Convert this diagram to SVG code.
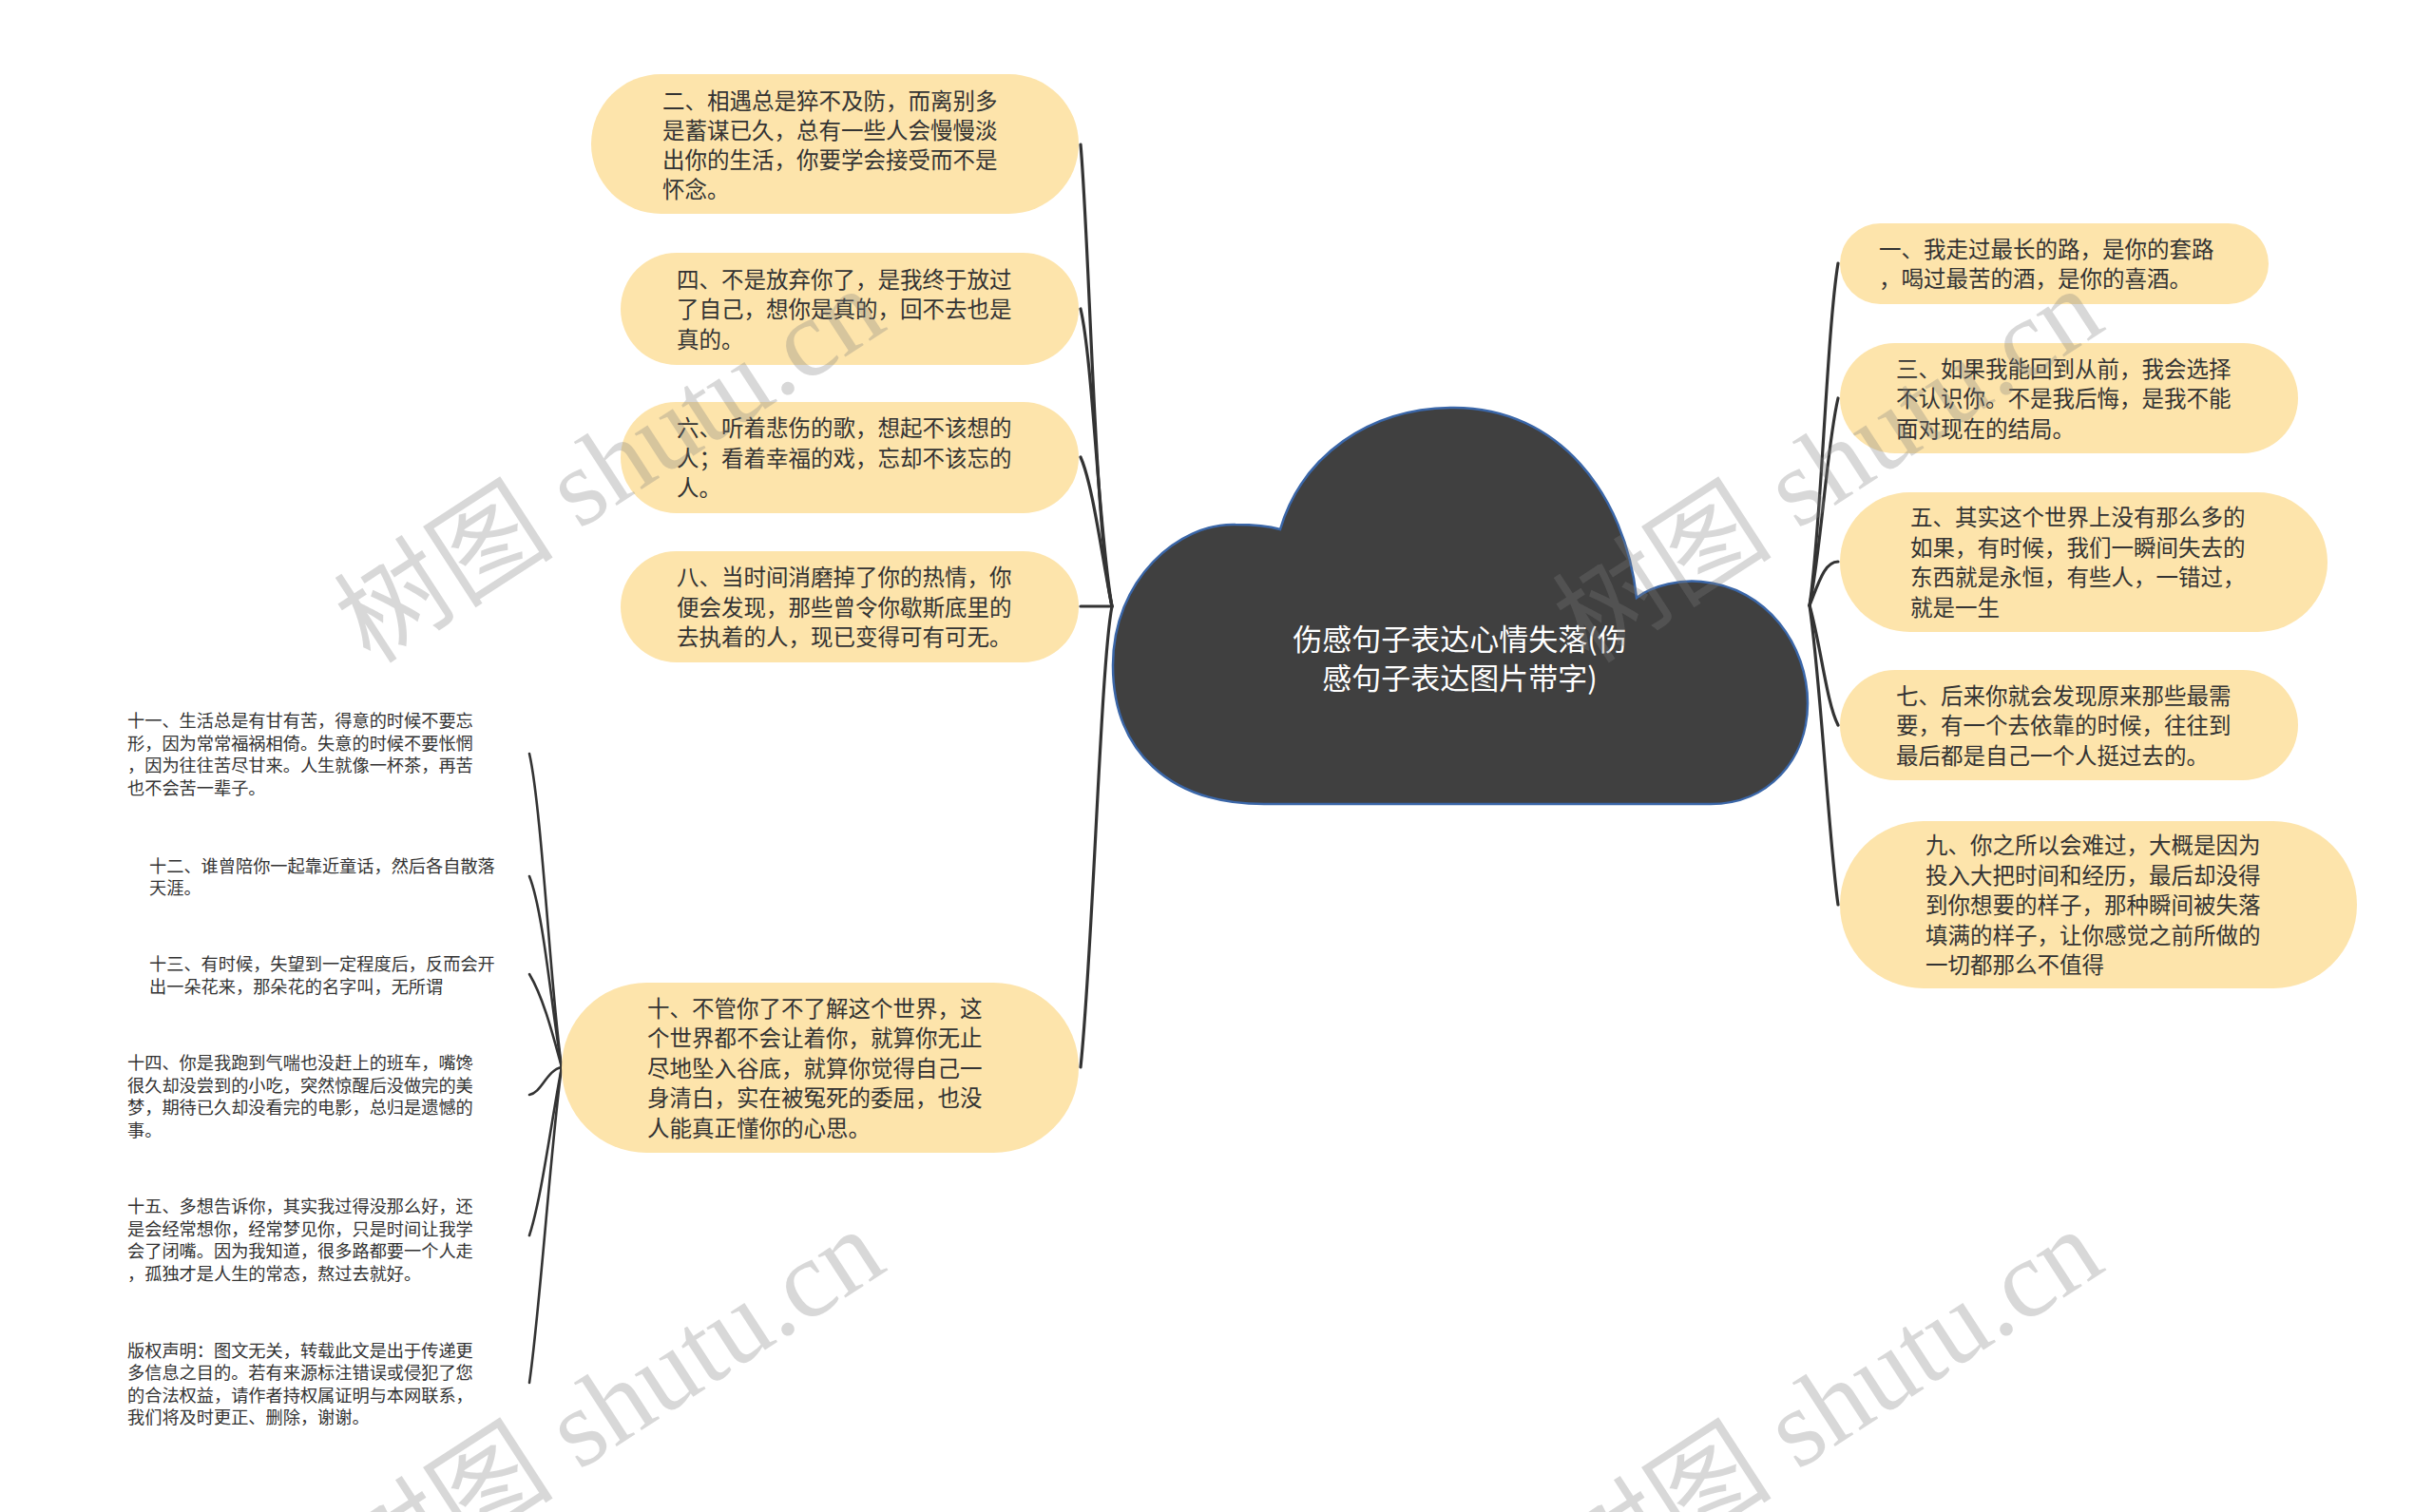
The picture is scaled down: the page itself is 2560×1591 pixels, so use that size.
<svg xmlns="http://www.w3.org/2000/svg" width="2560" height="1591" viewBox="0 0 2560 1591">
<style>
.node{fill:#fde4ab}
.t{font-family:"Noto Sans CJK SC","Noto Sans",sans-serif;font-size:23.5px;fill:#333}
.s{font-family:"Noto Sans CJK SC","Noto Sans",sans-serif;font-size:18.2px;fill:#333}
.root{font-family:"Noto Sans CJK SC","Noto Sans",sans-serif;font-size:31px;fill:#ffffff;text-anchor:middle}
.c{fill:none;stroke:#333;stroke-width:3.2;stroke-linecap:round}
.c2{fill:none;stroke:#333;stroke-width:2.6;stroke-linecap:round}
.wm{font-family:"Liberation Serif","Noto Sans CJK SC",serif;font-size:116px;fill:#7f7f7f;fill-opacity:0.3}
</style>
<rect width="2560" height="1591" fill="#ffffff"/>
<g id="connectors">
<path class="c" d="M1170 638 C1152 560 1146 250 1137 152"/>
<path class="c" d="M1170 638 C1156 560 1150 380 1137 325"/>
<path class="c" d="M1170 638 C1160 590 1150 510 1137 481"/>
<path class="c" d="M1170 638 L1137 638"/>
<path class="c" d="M1170 638 C1158 700 1150 1000 1137 1123"/>
<path class="c" d="M1904 637 C1916 560 1922 350 1934 277"/>
<path class="c" d="M1904 637 C1916 580 1922 470 1934 419"/>
<path class="c" d="M1904 637 C1914 612 1920 591 1934 591"/>
<path class="c" d="M1904 637 C1916 680 1922 740 1934 763"/>
<path class="c" d="M1904 637 C1916 720 1924 880 1934 952"/>
<path class="c2" d="M591 1123 C580 1050 570 850 557 793"/>
<path class="c2" d="M591 1123 C580 1060 572 960 557 922"/>
<path class="c2" d="M591 1123 C582 1090 572 1050 557 1025"/>
<path class="c2" d="M591 1123 C575 1126 570 1150 557 1152"/>
<path class="c2" d="M591 1123 C580 1180 570 1260 557 1300"/>
<path class="c2" d="M591 1123 C580 1200 568 1380 557 1455"/>
</g>
<g id="root">
<path d="M1330 846 C1230 846 1171 790 1171 700 C1171 610 1240 550 1300 552 C1325 552 1340 555 1347 557 C1370 480 1440 429 1530 429 C1640 429 1710 520 1722 629 C1740 615 1770 610 1790 612 C1860 618 1902 680 1902 740 C1902 800 1860 846 1800 846 Z" fill="#404040" stroke="#3a66a8" stroke-width="2.5"/>
<text class="root" x="1536" y="684">伤感句子表达心情失落(伤</text>
<text class="root" x="1536" y="725">感句子表达图片带字)</text>
</g>
<g id="n2">
<rect class="node" x="622" y="78" width="513" height="147" rx="73.5"/>
<text class="t" x="697" y="115">二、相遇总是猝不及防，而离别多</text>
<text class="t" x="697" y="146">是蓄谋已久，总有一些人会慢慢淡</text>
<text class="t" x="697" y="177">出你的生活，你要学会接受而不是</text>
<text class="t" x="697" y="208">怀念。</text>
</g>
<g id="n4">
<rect class="node" x="653" y="266" width="482" height="118" rx="59"/>
<text class="t" x="712" y="302.5">四、不是放弃你了，是我终于放过</text>
<text class="t" x="712" y="334">了自己，想你是真的，回不去也是</text>
<text class="t" x="712" y="365.5">真的。</text>
</g>
<g id="n6">
<rect class="node" x="653" y="423" width="482" height="117" rx="58.5"/>
<text class="t" x="712" y="459">六、听着悲伤的歌，想起不该想的</text>
<text class="t" x="712" y="490.5">人；看着幸福的戏，忘却不该忘的</text>
<text class="t" x="712" y="522">人。</text>
</g>
<g id="n8">
<rect class="node" x="653" y="580" width="482" height="117" rx="58.5"/>
<text class="t" x="712" y="616">八、当时间消磨掉了你的热情，你</text>
<text class="t" x="712" y="647.5">便会发现，那些曾令你歇斯底里的</text>
<text class="t" x="712" y="679">去执着的人，现已变得可有可无。</text>
</g>
<g id="n10">
<rect class="node" x="591" y="1034" width="544" height="179" rx="89.5"/>
<text class="t" x="681" y="1069.5">十、不管你了不了解这个世界，这</text>
<text class="t" x="681" y="1101">个世界都不会让着你，就算你无止</text>
<text class="t" x="681" y="1132.5">尽地坠入谷底，就算你觉得自己一</text>
<text class="t" x="681" y="1164">身清白，实在被冤死的委屈，也没</text>
<text class="t" x="681" y="1195.5">人能真正懂你的心思。</text>
</g>
<g id="n1">
<rect class="node" x="1936" y="235" width="451" height="85" rx="42.5"/>
<text class="t" x="1977" y="270.5">一、我走过最长的路，是你的套路</text>
<text class="t" x="1977" y="302">，喝过最苦的酒，是你的喜酒。</text>
</g>
<g id="n3">
<rect class="node" x="1936" y="361" width="482" height="116" rx="58"/>
<text class="t" x="1995" y="396.5">三、如果我能回到从前，我会选择</text>
<text class="t" x="1995" y="428">不认识你。不是我后悔，是我不能</text>
<text class="t" x="1995" y="459.5">面对现在的结局。</text>
</g>
<g id="n5">
<rect class="node" x="1936" y="518" width="513" height="147" rx="73.5"/>
<text class="t" x="2010" y="553">五、其实这个世界上没有那么多的</text>
<text class="t" x="2010" y="584.5">如果，有时候，我们一瞬间失去的</text>
<text class="t" x="2010" y="616">东西就是永恒，有些人，一错过，</text>
<text class="t" x="2010" y="647.5">就是一生</text>
</g>
<g id="n7">
<rect class="node" x="1936" y="705" width="482" height="116" rx="58"/>
<text class="t" x="1995" y="740.5">七、后来你就会发现原来那些最需</text>
<text class="t" x="1995" y="772">要，有一个去依靠的时候，往往到</text>
<text class="t" x="1995" y="803.5">最后都是自己一个人挺过去的。</text>
</g>
<g id="n9">
<rect class="node" x="1936" y="864" width="544" height="176" rx="88"/>
<text class="t" x="2026" y="898">九、你之所以会难过，大概是因为</text>
<text class="t" x="2026" y="929.5">投入大把时间和经历，最后却没得</text>
<text class="t" x="2026" y="961">到你想要的样子，那种瞬间被失落</text>
<text class="t" x="2026" y="992.5">填满的样子，让你感觉之前所做的</text>
<text class="t" x="2026" y="1024">一切都那么不值得</text>
</g>
<g id="n11">
<text class="s" x="134" y="765">十一、生活总是有甘有苦，得意的时候不要忘</text>
<text class="s" x="134" y="788.5">形，因为常常福祸相倚。失意的时候不要怅惘</text>
<text class="s" x="134" y="812">，因为往往苦尽甘来。人生就像一杯茶，再苦</text>
<text class="s" x="134" y="835.5">也不会苦一辈子。</text>
</g>
<g id="n12">
<text class="s" x="157" y="917.5">十二、谁曾陪你一起靠近童话，然后各自散落</text>
<text class="s" x="157" y="941">天涯。</text>
</g>
<g id="n13">
<text class="s" x="157" y="1021">十三、有时候，失望到一定程度后，反而会开</text>
<text class="s" x="157" y="1044.5">出一朵花来，那朵花的名字叫，无所谓</text>
</g>
<g id="n14">
<text class="s" x="134" y="1125">十四、你是我跑到气喘也没赶上的班车，嘴馋</text>
<text class="s" x="134" y="1148.5">很久却没尝到的小吃，突然惊醒后没做完的美</text>
<text class="s" x="134" y="1172">梦，期待已久却没看完的电影，总归是遗憾的</text>
<text class="s" x="134" y="1195.5">事。</text>
</g>
<g id="n15">
<text class="s" x="134" y="1276">十五、多想告诉你，其实我过得没那么好，还</text>
<text class="s" x="134" y="1299.5">是会经常想你，经常梦见你，只是时间让我学</text>
<text class="s" x="134" y="1323">会了闭嘴。因为我知道，很多路都要一个人走</text>
<text class="s" x="134" y="1346.5">，孤独才是人生的常态，熬过去就好。</text>
</g>
<g id="copyright">
<text class="s" x="134" y="1427.5">版权声明：图文无关，转载此文是出于传递更</text>
<text class="s" x="134" y="1451">多信息之目的。若有来源标注错误或侵犯了您</text>
<text class="s" x="134" y="1474.5">的合法权益，请作者持权属证明与本网联系，</text>
<text class="s" x="134" y="1498">我们将及时更正、删除，谢谢。</text>
</g>
<g id="watermarks">
<text class="wm" transform="translate(390 700) rotate(-33)">树图 shutu.cn</text>
<text class="wm" transform="translate(1672 700) rotate(-33)">树图 shutu.cn</text>
<text class="wm" transform="translate(390 1690) rotate(-33)">树图 shutu.cn</text>
<text class="wm" transform="translate(1672 1690) rotate(-33)">树图 shutu.cn</text>
</g>
</svg>
